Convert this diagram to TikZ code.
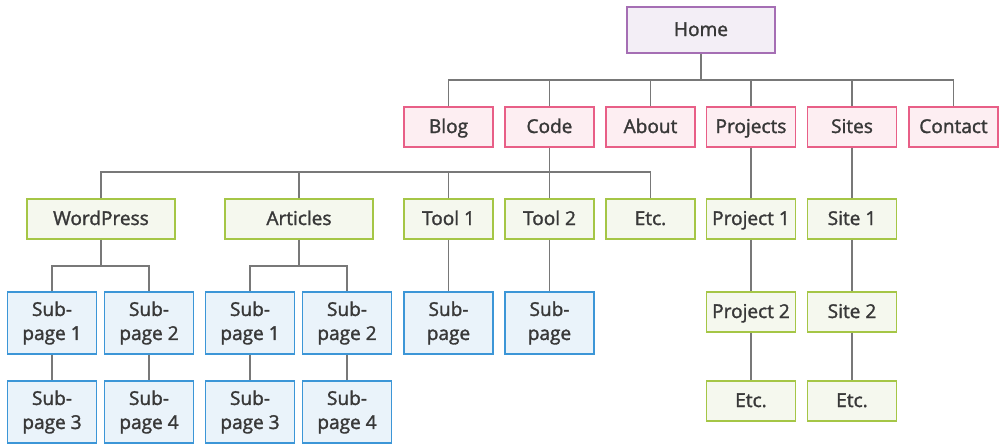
\documentclass[tikz,border=0pt]{standalone}
\usepackage{fontspec}
\setmainfont{Open Sans}
\newfontfamily\semifont{Open Sans}[FakeBold=1.6]
\definecolor{ink}{RGB}{56,56,56}
\definecolor{wire}{RGB}{120,120,120}
\definecolor{homeline}{RGB}{165,110,180}
\definecolor{homesoft}{RGB}{243,238,246}
\definecolor{pinkline}{RGB}{232,95,135}
\definecolor{pinksoft}{RGB}{253,238,242}
\definecolor{greenline}{RGB}{165,198,70}
\definecolor{greensoft}{RGB}{245,248,238}
\definecolor{blueline}{RGB}{60,150,215}
\definecolor{bluesoft}{RGB}{234,243,250}

\begin{document}
\begin{tikzpicture}[x=0.75pt, y=-0.75pt,
  font=\semifont\fontsize{14.3}{18}\selectfont, text=ink,
  box/.style={draw, line width=1.1pt, inner sep=0pt, align=center, minimum height=30pt,
    text height=10.5pt, text depth=1.5pt},
  homebox/.style={box, draw=homeline, fill=homesoft, minimum width=111pt, minimum height=34.5pt},
  topbox/.style={box, draw=pinkline, fill=pinksoft, minimum width=66.5pt},
  secbox/.style={box, draw=greenline, fill=greensoft, minimum width=66.5pt},
  widebox/.style={secbox, minimum width=111pt},
  subbox/.style={box, draw=blueline, fill=bluesoft, minimum width=66.5pt, minimum height=46.5pt,
    text height=, text depth=},
  link/.style={draw=wire, line width=0.9pt}]
\useasboundingbox (0,0) rectangle (1002,443);
% home and first level
\node[homebox] (home) at (701,30) {Home};
\node[topbox] (blog) at (448.5,127) {Blog};
\node[topbox] (code) at (549.5,127) {Code};
\node[topbox] (about) at (650.5,127) {About};
\node[topbox] (projects) at (751,127) {Projects};
\node[topbox] (sites) at (852,127) {Sites};
\node[topbox] (contact) at (953.5,127) {Contact};
% second level
\node[widebox] (wp) at (101,219) {WordPress};
\node[widebox] (art) at (299,219) {Articles};
\node[secbox] (tool1) at (448.5,219) {Tool 1};
\node[secbox] (tool2) at (549.5,219) {Tool 2};
\node[secbox] (etc) at (650.5,219) {Etc.};
\node[secbox] (proj1) at (751,219) {Project 1};
\node[secbox] (site1) at (852,219) {Site 1};
% sub-pages
\node[subbox] (wp1) at (52,323) {Sub-\\page 1};
\node[subbox] (wp2) at (149,323) {Sub-\\page 2};
\node[subbox] (wp3) at (52,412) {Sub-\\page 3};
\node[subbox] (wp4) at (149,412) {Sub-\\page 4};
\node[subbox] (art1) at (250,323) {Sub-\\page 1};
\node[subbox] (art2) at (347,323) {Sub-\\page 2};
\node[subbox] (art3) at (250,412) {Sub-\\page 3};
\node[subbox] (art4) at (347,412) {Sub-\\page 4};
\node[subbox] (tool1p) at (448.5,323) {Sub-\\page};
\node[subbox] (tool2p) at (549.5,323) {Sub-\\page};
\node[secbox] (proj2) at (751,312) {Project 2};
\node[secbox] (site2) at (852,312) {Site 2};
\node[secbox] (projetc) at (751,401) {Etc.};
\node[secbox] (siteetc) at (852,401) {Etc.};
% buses
\coordinate (hbus) at (701,80);
\coordinate (cbus) at (549.5,172);
\coordinate (wbus) at (101,266);
\coordinate (abus) at (299,266);
% connectors
\draw[link] (home) -- (hbus);
\draw[link] (blog.north) |- (hbus) -| (contact.north);
\foreach \n in {code,about,projects,sites}
  \draw[link] (\n.north) -- (\n.north |- hbus);
\draw[link] (code) -- (cbus);
\draw[link] (wp.north) |- (cbus) -| (etc.north);
\foreach \n in {art,tool1,tool2}
  \draw[link] (\n.north) -- (\n.north |- cbus);
\draw[link] (wp) -- (wbus);
\draw[link] (wp1.north) |- (wbus) -| (wp2.north);
\draw[link] (art) -- (abus);
\draw[link] (art1.north) |- (abus) -| (art2.north);
\draw[link] (wp1) -- (wp3);
\draw[link] (wp2) -- (wp4);
\draw[link] (art1) -- (art3);
\draw[link] (art2) -- (art4);
\draw[link] (tool1) -- (tool1p);
\draw[link] (tool2) -- (tool2p);
\draw[link] (projects) -- (proj1) -- (proj2) -- (projetc);
\draw[link] (sites) -- (site1) -- (site2) -- (siteetc);
\end{tikzpicture}
\end{document}
